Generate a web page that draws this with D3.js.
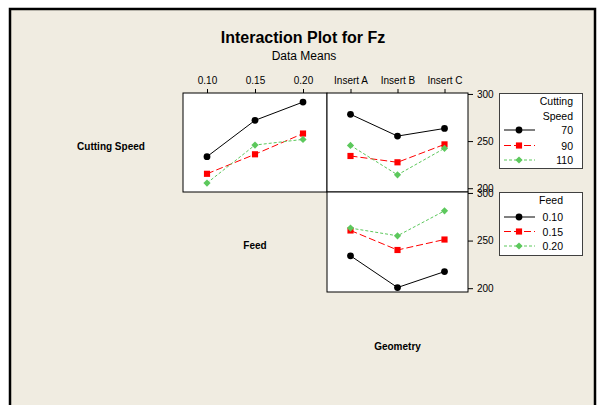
<!DOCTYPE html>
<html>
<head>
<meta charset="utf-8">
<script src="https://cdn.jsdelivr.net/npm/d3@7"></script>
<style>
    body { margin: 0; background: #ffffff; }
    svg { display: block; }
    text { font-family: "Liberation Sans", Arial, sans-serif; }
</style>
</head>
<body>
<script>
(function () {
    'use strict';

    // levels of each factor
    var feedLevels = ["0.10", "0.15", "0.20"],
        geometryLevels = ["Insert A", "Insert B", "Insert C"],
        speedLevels = ["70", "90", "110"],
        yTicks = [200, 250, 300];

    // data means of Fz, one row per trace level
    var speedByFeed = [
        [233.5, 272.0, 291.4],
        [215.3, 236.0, 258.0],
        [205.5, 245.8, 251.8]
    ];
    var speedByGeometry = [
        [278.4, 255.3, 263.4],
        [234.2, 227.5, 246.5],
        [245.4, 214.2, 242.3]
    ];
    var feedByGeometry = [
        [234.0, 200.7, 217.4],
        [260.6, 240.1, 251.1],
        [263.1, 255.0, 281.2]
    ];

    var width = 598, height = 405,
        cell = {x0: 39, w: 144},
        colX = [39, 183, 327],
        colW = [144, 144, 141],
        rowY = [93, 192, 292],
        yDomain = [196, 301],
        styles = [
            {color: "#000000", dash: null, symbol: "circle"},
            {color: "#ff0000", dash: "7,3", symbol: "square"},
            {color: "#5cc85c", dash: "3,2", symbol: "diamond"}
        ];

    var svg = d3.select("body").append("svg")
        .attr("width", width)
        .attr("height", height);

    // outer frame
    svg.append("rect")
        .attr("x", 10).attr("y", 9)
        .attr("width", 585).attr("height", 420)
        .attr("fill", "#f0ece1")
        .attr("stroke", "#000")
        .attr("stroke-width", 2.5);

    svg.append("text")
        .attr("x", 303).attr("y", 43)
        .attr("text-anchor", "middle")
        .attr("font-size", "16px")
        .attr("font-weight", "bold")
        .text("Interaction Plot for Fz");

    svg.append("text")
        .attr("x", 304).attr("y", 60)
        .attr("text-anchor", "middle")
        .attr("font-size", "12px")
        .text("Data Means");

    // diagonal factor labels
    [["Cutting Speed", 0], ["Feed", 1], ["Geometry", 2]].forEach(function (d) {
        svg.append("text")
            .attr("x", colX[d[1]] + colW[d[1]] / 2)
            .attr("y", rowY[d[1]] - 1 + (d[1] === 2 ? 50 + 9 : 50 + 8))
            .attr("text-anchor", "middle")
            .attr("font-size", "10px")
            .attr("font-weight", "bold")
            .text(d[0]);
    });

    function symbolPath(name) {
        if (name === "circle") {
            return d3.symbol().type(d3.symbolCircle).size(36)();
        }
        if (name === "square") {
            return d3.symbol().type(d3.symbolSquare).size(38)();
        }
        return d3.symbol().type(d3.symbolSquare).size(26)();
    }

    function drawMarker(g, x, y, st) {
        g.append("path")
            .attr("d", symbolPath(st.symbol))
            .attr("transform", "translate(" + [x, y] + ")" + (st.symbol === "diamond" ? " rotate(45)" : ""))
            .attr("fill", st.color);
    }

    function drawPanel(col, row, levels, series, topAxis, rightAxis) {
        var x0 = colX[col], y0 = rowY[row], w = colW[col], h = rowY[row + 1] - y0,
            g = svg.append("g"),
            x = d3.scalePoint().domain(levels).range([x0, x0 + w]).padding(0.5),
            y = d3.scaleLinear().domain(yDomain).range([y0 + h, y0]),
            line = d3.line()
                .x(function (d, i) { return x(levels[i]); })
                .y(function (d) { return y(d); });

        g.append("rect")
            .attr("x", x0).attr("y", y0)
            .attr("width", w).attr("height", h)
            .attr("fill", "#ffffff")
            .attr("stroke", "#000")
            .attr("stroke-width", 1);

        series.forEach(function (vals, k) {
            var st = styles[k];
            g.append("path")
                .datum(vals)
                .attr("d", line)
                .attr("fill", "none")
                .attr("stroke", st.color)
                .attr("stroke-width", 1)
                .attr("stroke-dasharray", st.dash);
            vals.forEach(function (v, i) {
                drawMarker(g, x(levels[i]), y(v), st);
            });
        });

        if (topAxis) {
            g.append("g")
                .attr("transform", "translate(0," + y0 + ")")
                .call(d3.axisTop(x).tickSize(4).tickPadding(5))
                .call(function (a) {
                    a.select(".domain").remove();
                    a.selectAll("text").attr("font-size", "10px").attr("fill", "#000")
                        .style("font-family", "'Liberation Sans', Arial, sans-serif");
                });
        }
        if (rightAxis) {
            g.append("g")
                .attr("transform", "translate(" + (x0 + w) + ",0)")
                .call(d3.axisRight(y).tickValues(yTicks).tickSize(5).tickPadding(4))
                .call(function (a) {
                    a.select(".domain").remove();
                    a.selectAll("text").attr("font-size", "10px").attr("fill", "#000")
                        .style("font-family", "'Liberation Sans', Arial, sans-serif");
                });
        }
    }

    drawPanel(1, 0, feedLevels, speedByFeed, true, false);
    drawPanel(2, 0, geometryLevels, speedByGeometry, true, true);
    drawPanel(2, 1, geometryLevels, feedByGeometry, false, true);

    function drawLegend(y0, h, titles, levels, rows, textRight) {
        var g = svg.append("g");
        g.append("rect")
            .attr("x", 499.5).attr("y", y0 + 0.5)
            .attr("width", 83).attr("height", h)
            .attr("fill", "#ffffff")
            .attr("stroke", "#404040")
            .attr("stroke-width", 1);
        titles.forEach(function (t, i) {
            g.append("text")
                .attr("x", textRight).attr("y", y0 + 12 + i * 15)
                .attr("text-anchor", "end")
                .attr("font-size", "10.5px")
                .text(t);
        });
        levels.forEach(function (lv, i) {
            var st = styles[i], ry = y0 + rows[i];
            g.append("line")
                .attr("x1", 504).attr("x2", 535)
                .attr("y1", ry).attr("y2", ry)
                .attr("stroke", st.color)
                .attr("stroke-width", 1)
                .attr("stroke-dasharray", st.dash);
            drawMarker(g, 519, ry, st);
            g.append("text")
                .attr("x", textRight).attr("y", ry + 4)
                .attr("text-anchor", "end")
                .attr("font-size", "10.5px")
                .text(lv);
        });
    }

    drawLegend(93, 75, ["Cutting", "Speed"], speedLevels, [37, 52.5, 67], 573);
    drawLegend(192, 63, ["Feed"], feedLevels, [25, 39.5, 54], 563);
}());
</script>
</body>
</html>
